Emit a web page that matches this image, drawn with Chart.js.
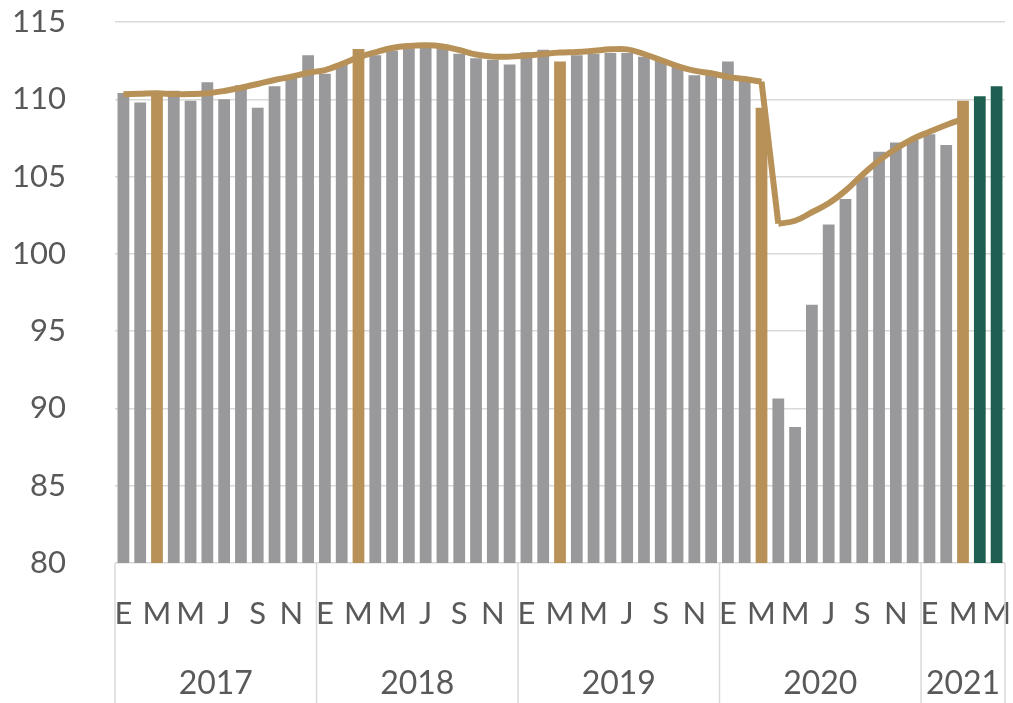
<!DOCTYPE html>
<html>
<head>
<meta charset="utf-8">
<script src="https://cdn.jsdelivr.net/npm/chart.js@4"></script>
<style>
  html, body { margin: 0; padding: 0; background: #fff; }
  #wrap { width: 1013px; height: 703px; }
</style>
</head>
<body>
<div id="wrap"><canvas id="grafica"></canvas></div>
<script>
// data
var years = ['2017', '2018', '2019', '2020', '2021'];
var monthsPerYear = [12, 12, 12, 12, 5];
var monthLetters = ['E', '', 'M', '', 'M', '', 'J', '', 'S', '', 'N', ''];

var indice = [
    110.4, 109.8, 110.4, 110.55, 109.9, 111.1, 110.0, 110.9, 109.45, 110.85, 111.55, 112.85,
    111.65, 112.25, 113.25, 112.85, 113.15, 113.3, 113.35, 113.5, 112.95, 112.65, 112.55, 112.25,
    113.05, 113.2, 112.45, 112.85, 112.95, 113.0, 113.0, 112.75, 112.5, 112.15, 111.55, 111.7,
    112.45, 111.2, 109.45, 90.65, 88.8, 96.7, 101.9, 103.55, 104.95, 106.6, 107.2, 107.37,
    107.74, 107.04, 109.9, 110.2, 110.85
];

var tendencia = [
    110.32, 110.36, 110.39, 110.34, 110.34, 110.39, 110.54, 110.75, 110.99, 111.25, 111.46, 111.72,
    111.89, 112.28, 112.71, 113.04, 113.32, 113.45, 113.49, 113.42, 113.19, 112.9, 112.76, 112.76,
    112.83, 112.93, 113.02, 113.06, 113.14, 113.23, 113.23, 112.93, 112.54, 112.15, 111.85, 111.68,
    111.45, 111.31, 111.14, 101.95, 102.14, 102.69, 103.27, 104.09, 105.1, 106.04, 106.8, 107.43,
    107.9, 108.34, 108.72, null, null
];

var yTicks = [80, 85, 90, 95, 100, 105, 110, 115];
var dropStart = 38; // marzo 2020 -> abril 2020

var gris = '#99999b';
var oro = '#b79157';
var verde = '#1f5f51';
var texto = '#595959';
var fuente = 'Lato, "Open Sans", sans-serif';

var labels = [];
for (var y = 0; y < years.length; y++) {
    for (var m = 0; m < monthsPerYear[y]; m++) {
        labels.push(monthLetters[m]);
    }
}

var barColors = [];
for (var y = 0; y < years.length; y++) {
    for (var m = 0; m < monthsPerYear[y]; m++) {
        if (y == years.length - 1 && m > 2) {
            barColors.push(verde);
        } else if (m == 2) {
            barColors.push(oro);
        } else {
            barColors.push(gris);
        }
    }
}

// trend split in pieces so the covid drop keeps sharp corners
var tramo1 = [], tramo2 = [], tramo3 = [];
for (var i = 0; i < tendencia.length; i++) {
    tramo1.push(i <= dropStart ? tendencia[i] : null);
    tramo2.push(i == dropStart || i == dropStart + 1 ? tendencia[i] : null);
    tramo3.push(i > dropStart ? tendencia[i] : null);
}

function lineSet(d, t) {
    return {
        type: 'line',
        data: d,
        borderColor: oro,
        borderWidth: 6,
        pointRadius: 0,
        tension: t,
        spanGaps: false,
        borderJoinStyle: 'miter',
        order: 0
    };
}

var yearPlugin = {
    id: 'years',
    afterDraw: function(chart) {
        var ctx = chart.ctx;
        var xs = chart.scales.x;
        var area = chart.chartArea;
        var half = (xs.getPixelForValue(1) - xs.getPixelForValue(0)) / 2;
        var idx = 0;
        ctx.save();
        ctx.strokeStyle = '#d9d9d9';
        ctx.lineWidth = 1.5;
        ctx.fillStyle = texto;
        ctx.font = '32px ' + fuente;
        ctx.textAlign = 'center';
        ctx.textBaseline = 'middle';
        for (var y = 0; y < years.length; y++) {
            var left = xs.getPixelForValue(idx) - half;
            var right = xs.getPixelForValue(idx + monthsPerYear[y] - 1) + half;
            ctx.beginPath();
            ctx.moveTo(left, area.bottom);
            ctx.lineTo(left, chart.height);
            ctx.stroke();
            if (y == years.length - 1) {
                ctx.beginPath();
                ctx.moveTo(right, area.bottom);
                ctx.lineTo(right, chart.height);
                ctx.stroke();
            }
            ctx.fillText(years[y], (left + right) / 2, 684);
            idx += monthsPerYear[y];
        }
        ctx.restore();
    }
};

var ctx = document.getElementById('grafica');

var chart = new Chart(ctx, {
    data: {
        labels: labels,
        datasets: [
            {
                type: 'bar',
                data: indice,
                backgroundColor: barColors,
                barPercentage: 0.7,
                categoryPercentage: 1.0,
                order: 1
            },
            lineSet(tramo1, 0.4),
            lineSet(tramo2, 0),
            lineSet(tramo3, 0.4)
        ]
    },
    options: {
        responsive: true,
        maintainAspectRatio: false,
        animation: false,
        layout: { padding: { top: 0, right: 8, left: 0, bottom: 0 } },
        plugins: {
            legend: { display: false },
            tooltip: { enabled: false }
        },
        scales: {
            x: {
                grid: { display: false, drawTicks: false },
                border: { display: false },
                ticks: {
                    autoSkip: false,
                    maxRotation: 0,
                    color: texto,
                    font: { family: fuente, size: 31 },
                    padding: 32
                },
                afterFit: function(s) {
                    s.height = 140;
                    s.paddingLeft = 0;
                    s.paddingRight = 0;
                }
            },
            y: {
                min: 80,
                max: 115,
                afterBuildTicks: function(s) {
                    s.ticks = yTicks.map(function(v) { return { value: v }; });
                },
                grid: { color: '#d9d9d9', lineWidth: 1.5, drawTicks: false },
                border: { display: false },
                ticks: {
                    color: texto,
                    font: { family: fuente, size: 31 },
                    padding: 49
                },
                afterFit: function(s) {
                    s.width = 115;
                    s.paddingTop = 22;
                    s.paddingBottom = 0;
                }
            }
        }
    },
    plugins: [yearPlugin]
});
</script>
</body>
</html>
